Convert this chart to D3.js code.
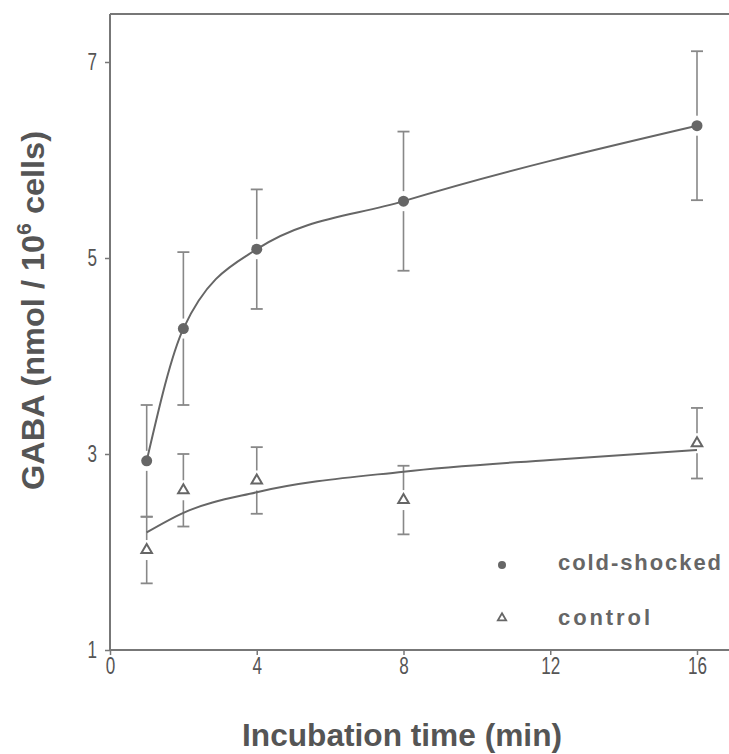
<!DOCTYPE html>
<html>
<head>
<meta charset="utf-8">
<script src="https://cdn.jsdelivr.net/npm/d3@7"></script>
<style>
  body { margin: 0; background: #fff; }
  svg { display: block; }
  .tick text { font-family: "Liberation Sans", Arial, sans-serif; font-size: 23px; fill: #555; }
</style>
</head>
<body>
<div id="chart"></div>
<script>
// values
var times = [1, 2, 4, 8, 16];
var coldMean = [2.93, 4.28, 5.09, 5.58, 6.35];
var coldErr = [0.57, 0.78, 0.61, 0.71, 0.76];
var controlMean = [2.02, 2.63, 2.73, 2.53, 3.11];
var controlErr = [0.34, 0.37, 0.34, 0.35, 0.36];
// fitted control curve (as drawn in the figure)
var fitTimes = [1, 2, 4, 8, 12, 16];
var controlFit = [2.20, 2.40, 2.61, 2.82, 2.94, 3.04];
var xTicks = [0, 4, 8, 12, 16];
var yTicks = [1, 3, 5, 7];
var legendLabels = ["cold-shocked", "control"];

var W = 729, H = 754;
var ink = "#666";

var svg = d3.select("#chart").append("svg").attr("width", W).attr("height", H);

var x = d3.scaleLinear().domain([0, 16]).range([110, 697]);
var y = d3.scaleLinear().domain([1, 7]).range([650, 62]);

// frame: top line, left + bottom axes (right side is cut off)
svg.append("line").attr("x1", 110).attr("x2", W).attr("y1", 14).attr("y2", 14)
    .attr("stroke", "#777").attr("stroke-width", 2);
svg.append("line").attr("x1", 110).attr("x2", 110).attr("y1", 14).attr("y2", y(1))
    .attr("stroke", "#777").attr("stroke-width", 2);
svg.append("line").attr("x1", 110).attr("x2", W).attr("y1", y(1)).attr("y2", y(1))
    .attr("stroke", "#777").attr("stroke-width", 2);

// condensed look of the original lettering
function narrow(sel) {
    sel.selectAll(".tick text")
        .attr("textLength", function() { return this.textContent.length * 9.5; })
        .attr("lengthAdjust", "spacingAndGlyphs");
}

var gx = svg.append("g").attr("transform", "translate(0," + y(1) + ")")
    .call(d3.axisBottom(x).tickValues(xTicks).tickSize(5).tickPadding(3).tickFormat(d3.format("d")));
gx.select(".domain").remove();
gx.selectAll(".tick line").attr("stroke", "#777").attr("stroke-width", 1.5);
narrow(gx);

var gy = svg.append("g").attr("transform", "translate(110,0)")
    .call(d3.axisLeft(y).tickValues(yTicks).tickSize(5).tickPadding(8).tickFormat(d3.format("d")));
gy.select(".domain").remove();
gy.selectAll(".tick line").attr("stroke", "#777").attr("stroke-width", 1.5);
narrow(gy);

// axis titles
svg.append("text")
    .attr("x", 242).attr("y", 746)
    .attr("textLength", 320).attr("lengthAdjust", "spacingAndGlyphs")
    .style("font-family", "Liberation Sans, Arial, sans-serif")
    .style("font-size", "32px").style("font-weight", "bold").style("fill", "#555")
    .text("Incubation time (min)");

var yt = svg.append("text")
    .attr("transform", "translate(44,490) rotate(-90)")
    .attr("textLength", 359).attr("lengthAdjust", "spacingAndGlyphs")
    .style("font-family", "Liberation Sans, Arial, sans-serif")
    .style("font-size", "32px").style("font-weight", "bold").style("fill", "#555");
yt.append("tspan").text("GABA (nmol / 10");
yt.append("tspan").attr("dy", -13).style("font-size", "21px").text("6");
yt.append("tspan").attr("dy", 13).text(" cells)");

function drawErr(means, errs) {
    var g = svg.append("g");
    times.forEach(function(t, i) {
        var cx = x(t), top = y(means[i] + errs[i]), bot = y(means[i] - errs[i]);
        g.append("line").attr("x1", cx).attr("x2", cx).attr("y1", top).attr("y2", bot)
            .attr("stroke", "#888").attr("stroke-width", 1.6);
        [top, bot].forEach(function(yy) {
            g.append("line").attr("x1", cx - 6).attr("x2", cx + 6).attr("y1", yy).attr("y2", yy)
                .attr("stroke", "#888").attr("stroke-width", 1.8);
        });
        // small gap around the marker
        g.append("rect").attr("x", cx - 3).attr("y", y(means[i]) - 10)
            .attr("width", 6).attr("height", 20).attr("fill", "#fff");
    });
}
drawErr(coldMean, coldErr);
drawErr(controlMean, controlErr);

var line = d3.line().curve(d3.curveMonotoneX)
    .x(function(d) { return x(d[0]); })
    .y(function(d) { return y(d[1]); });

svg.append("path").datum(d3.zip(times, coldMean)).attr("d", line)
    .attr("fill", "none").attr("stroke", ink).attr("stroke-width", 2);
svg.append("path").datum(d3.zip(fitTimes, controlFit)).attr("d", line)
    .attr("fill", "none").attr("stroke", ink).attr("stroke-width", 2);

var tri = d3.symbol().type(d3.symbolTriangle).size(48);

svg.append("g").selectAll("circle").data(d3.zip(times, coldMean)).enter().append("circle")
    .attr("cx", function(d) { return x(d[0]); })
    .attr("cy", function(d) { return y(d[1]); })
    .attr("r", 5.5).attr("fill", ink);

svg.append("g").selectAll("path").data(d3.zip(times, controlMean)).enter().append("path")
    .attr("d", tri)
    .attr("transform", function(d) { return "translate(" + x(d[0]) + "," + y(d[1]) + ")"; })
    .attr("fill", "#fff").attr("stroke", ink).attr("stroke-width", 2);

// legend
var lg = svg.append("g");
lg.append("circle").attr("cx", 502).attr("cy", 565).attr("r", 4).attr("fill", ink);
lg.append("path").attr("d", d3.symbol().type(d3.symbolTriangle).size(30))
    .attr("transform", "translate(502,618)")
    .attr("fill", "#fff").attr("stroke", ink).attr("stroke-width", 1.8);
lg.selectAll("text").data(legendLabels).enter().append("text")
    .attr("x", 558)
    .attr("y", function(d, i) { return i === 0 ? 570 : 625; })
    .attr("textLength", function(d, i) { return i === 0 ? 163 : 92; })
    .attr("lengthAdjust", "spacing")
    .style("font-family", "Liberation Sans, Arial, sans-serif")
    .style("font-size", "22px").style("font-weight", "bold").style("fill", "#666")
    .text(function(d) { return d; });
</script>
</body>
</html>
